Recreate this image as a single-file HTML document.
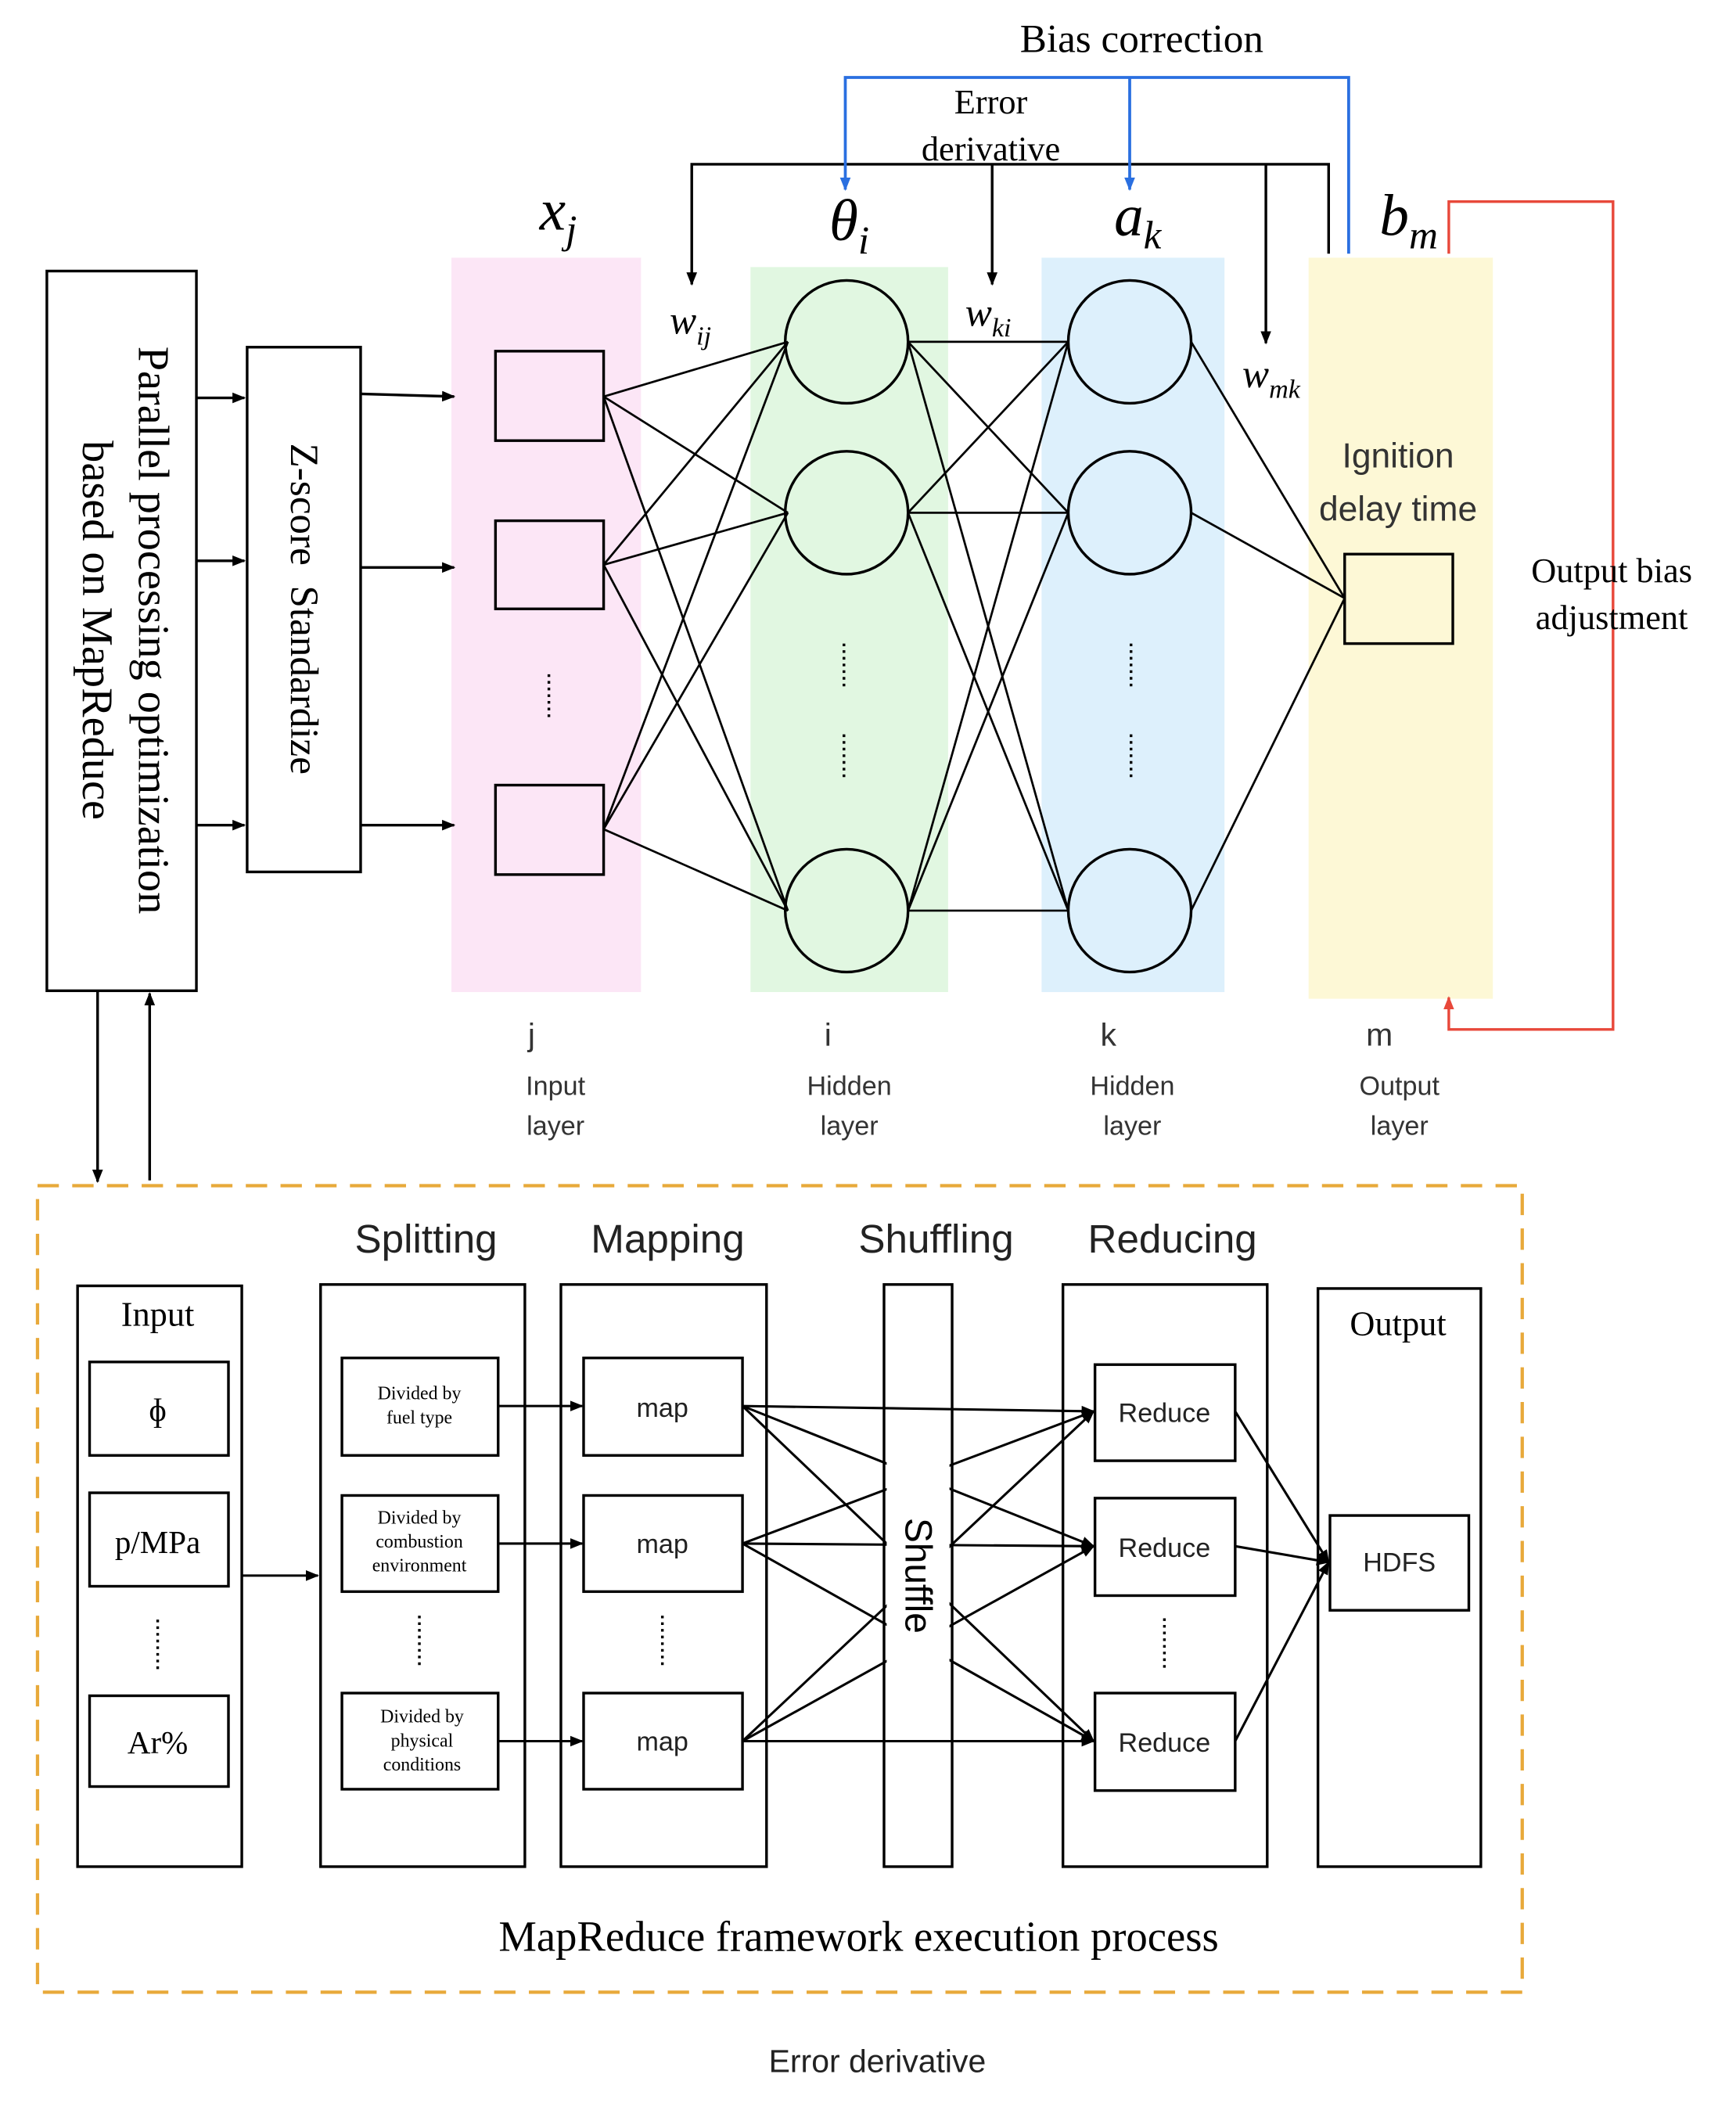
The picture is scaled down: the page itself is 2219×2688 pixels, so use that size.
<!DOCTYPE html>
<html><head><meta charset="utf-8"><style>
html,body{margin:0;padding:0;background:#fff}
svg{display:block}
.s{font-family:"Liberation Serif",serif}
.a{font-family:"Liberation Sans","DejaVu Sans",sans-serif}
</style></head><body>
<svg width="2219" height="2688" viewBox="0 0 1300 1575" xmlns="http://www.w3.org/2000/svg">
<defs>
<marker id="ah" markerWidth="10" markerHeight="10" refX="9" refY="5" orient="auto" markerUnits="userSpaceOnUse"><path d="M0,1 L10,5 L0,9 z" fill="#000"/></marker>
<marker id="ab" markerWidth="10" markerHeight="10" refX="9" refY="5" orient="auto" markerUnits="userSpaceOnUse"><path d="M0,1 L10,5 L0,9 z" fill="#2a6fe0"/></marker>
<marker id="ar" markerWidth="10" markerHeight="10" refX="9" refY="5" orient="auto" markerUnits="userSpaceOnUse"><path d="M0,1 L10,5 L0,9 z" fill="#e8483a"/></marker>
</defs>
<rect width="1300" height="1575" fill="#fff"/>
<rect x="338" y="193" width="142" height="550" fill="#fce6f6"/>
<rect x="562" y="200" width="148" height="543" fill="#e1f7e1"/>
<rect x="780" y="193" width="137" height="550" fill="#ddf0fc"/>
<rect x="980" y="193" width="138" height="555" fill="#fdf8d6"/>
<g fill="none" stroke="#000" stroke-width="2">
<rect x="35" y="203" width="112" height="539"/>
<rect x="185" y="260" width="85" height="393"/>
<line x1="147" y1="298" x2="183" y2="298" marker-end="url(#ah)"/>
<line x1="147" y1="420" x2="183" y2="420" marker-end="url(#ah)"/>
<line x1="147" y1="618" x2="183" y2="618" marker-end="url(#ah)"/>
<line x1="270" y1="295" x2="340" y2="297" marker-end="url(#ah)"/>
<line x1="270" y1="425" x2="340" y2="425" marker-end="url(#ah)"/>
<line x1="270" y1="618" x2="340" y2="618" marker-end="url(#ah)"/>
<rect x="371" y="263" width="81" height="67"/>
<rect x="371" y="390" width="81" height="66"/>
<rect x="371" y="588" width="81" height="67"/>
<circle cx="634" cy="256" r="46"/><circle cx="634" cy="384" r="46"/><circle cx="634" cy="682" r="46"/>
<circle cx="846" cy="256" r="46"/><circle cx="846" cy="384" r="46"/><circle cx="846" cy="682" r="46"/>
<rect x="1007" y="415" width="81" height="67"/>
</g>
<g stroke="#000" stroke-width="1.6">
<line x1="452" y1="297" x2="590" y2="256"/><line x1="452" y1="297" x2="590" y2="384"/><line x1="452" y1="297" x2="590" y2="682"/>
<line x1="452" y1="423" x2="590" y2="256"/><line x1="452" y1="423" x2="590" y2="384"/><line x1="452" y1="423" x2="590" y2="682"/>
<line x1="452" y1="621" x2="590" y2="256"/><line x1="452" y1="621" x2="590" y2="384"/><line x1="452" y1="621" x2="590" y2="682"/>
<line x1="680" y1="256" x2="800" y2="256"/><line x1="680" y1="256" x2="800" y2="384"/><line x1="680" y1="256" x2="800" y2="682"/>
<line x1="680" y1="384" x2="800" y2="256"/><line x1="680" y1="384" x2="800" y2="384"/><line x1="680" y1="384" x2="800" y2="682"/>
<line x1="680" y1="682" x2="800" y2="256"/><line x1="680" y1="682" x2="800" y2="384"/><line x1="680" y1="682" x2="800" y2="682"/>
<line x1="892" y1="256" x2="1007" y2="448"/><line x1="892" y1="384" x2="1007" y2="448"/><line x1="892" y1="682" x2="1007" y2="448"/>
</g>
<g stroke="#000" stroke-width="2" stroke-dasharray="2,3">
<line x1="411" y1="505" x2="411" y2="537"/>
<line x1="632" y1="482" x2="632" y2="516"/><line x1="632" y1="550" x2="632" y2="585"/>
<line x1="847" y1="482" x2="847" y2="516"/><line x1="847" y1="550" x2="847" y2="585"/>
</g>
<g fill="none" stroke="#000" stroke-width="2">
<polyline points="995,190 995,123 518,123 518,213" marker-end="url(#ah)"/>
<line x1="743" y1="123" x2="743" y2="213" marker-end="url(#ah)"/>
<line x1="948" y1="123" x2="948" y2="257" marker-end="url(#ah)"/>
</g>
<g fill="none" stroke="#2a6fe0" stroke-width="2.2">
<polyline points="1010,190 1010,58 633,58 633,142" marker-end="url(#ab)"/>
<line x1="846" y1="58" x2="846" y2="142" marker-end="url(#ab)"/>
</g>
<polyline fill="none" stroke="#e8483a" stroke-width="2" points="1085,190 1085,151 1208,151 1208,771 1085,771 1085,747" marker-end="url(#ar)"/>
<text class="s" x="855" y="39" font-size="30" text-anchor="middle">Bias correction</text>
<text class="s" x="742" y="85" font-size="26" text-anchor="middle">Error</text>
<text class="s" x="742" y="120" font-size="26" text-anchor="middle">derivative</text>
<text class="s" x="418" y="172" font-size="44" font-style="italic" text-anchor="middle">x<tspan font-size="30" dy="10">j</tspan></text>
<text class="s" x="636" y="180" font-size="44" font-style="italic" text-anchor="middle">θ<tspan font-size="30" dy="10">i</tspan></text>
<text class="s" x="852" y="176" font-size="44" font-style="italic" text-anchor="middle">a<tspan font-size="30" dy="10">k</tspan></text>
<text class="s" x="1055" y="176" font-size="44" font-style="italic" text-anchor="middle">b<tspan font-size="30" dy="10">m</tspan></text>
<text class="s" x="517" y="250" font-size="30" font-style="italic" text-anchor="middle">w<tspan font-size="20" dy="8">ij</tspan></text>
<text class="s" x="740" y="244" font-size="30" font-style="italic" text-anchor="middle">w<tspan font-size="20" dy="8">ki</tspan></text>
<text class="s" x="952" y="290" font-size="30" font-style="italic" text-anchor="middle">w<tspan font-size="20" dy="8">mk</tspan></text>
<text class="a" x="1047" y="350" font-size="26" text-anchor="middle" fill="#333">Ignition</text>
<text class="a" x="1047" y="390" font-size="26" text-anchor="middle" fill="#333">delay time</text>
<text class="s" x="1207" y="436" font-size="26" text-anchor="middle">Output bias</text>
<text class="s" x="1207" y="471" font-size="26" text-anchor="middle">adjustment</text>
<text class="s" transform="translate(104,472) rotate(90)" font-size="33" text-anchor="middle">Parallel processing optimization</text>
<text class="s" transform="translate(62,472) rotate(90)" font-size="33" text-anchor="middle">based on MapReduce</text>
<text class="s" transform="translate(218,456) rotate(90)" font-size="30" text-anchor="middle" xml:space="preserve">Z-score  Standardize</text>
<g class="a" font-size="20" text-anchor="middle" fill="#333">
<text x="398" y="783" font-size="24">j</text><text x="416" y="820">Input</text><text x="416" y="850">layer</text>
<text x="620" y="783" font-size="24">i</text><text x="636" y="820">Hidden</text><text x="636" y="850">layer</text>
<text x="830" y="783" font-size="24">k</text><text x="848" y="820">Hidden</text><text x="848" y="850">layer</text>
<text x="1033" y="783" font-size="24">m</text><text x="1048" y="820">Output</text><text x="1048" y="850">layer</text>
</g>
<g stroke="#000" stroke-width="2">
<line x1="73" y1="742" x2="73" y2="885" marker-end="url(#ah)"/>
<line x1="112" y1="884" x2="112" y2="744" marker-end="url(#ah)"/>
</g>
<rect x="28" y="888" width="1112" height="604" fill="none" stroke="#e8a93a" stroke-width="2.5" stroke-dasharray="16,10"/>
<g class="a" font-size="30" text-anchor="middle" fill="#222">
<text x="319" y="938">Splitting</text><text x="500" y="938">Mapping</text><text x="701" y="938">Shuffling</text><text x="878" y="938">Reducing</text>
</g>
<g fill="none" stroke="#000" stroke-width="2">
<rect x="58" y="963" width="123" height="435"/>
<rect x="67" y="1020" width="104" height="70"/><rect x="67" y="1118" width="104" height="70"/><rect x="67" y="1270" width="104" height="68"/>
<rect x="240" y="962" width="153" height="436"/>
<rect x="256" y="1017" width="117" height="73"/><rect x="256" y="1120" width="117" height="72"/><rect x="256" y="1268" width="117" height="72"/>
<rect x="420" y="962" width="154" height="436"/>
<rect x="437" y="1017" width="119" height="73"/><rect x="437" y="1120" width="119" height="72"/><rect x="437" y="1268" width="119" height="72"/>
<rect x="662" y="962" width="51" height="436"/>
<rect x="796" y="962" width="153" height="436"/>
<rect x="820" y="1022" width="105" height="72"/><rect x="820" y="1122" width="105" height="73"/><rect x="820" y="1268" width="105" height="73"/>
<rect x="987" y="965" width="122" height="433"/>
<rect x="996" y="1135" width="104" height="71"/>
</g>
<g stroke="#000" stroke-width="2" stroke-dasharray="2,3">
<line x1="118" y1="1213" x2="118" y2="1252"/><line x1="314" y1="1210" x2="314" y2="1250"/>
<line x1="496" y1="1210" x2="496" y2="1250"/><line x1="872" y1="1212" x2="872" y2="1252"/>
</g>
<g stroke="#000" stroke-width="1.8" fill="none">
<line x1="181" y1="1180" x2="238" y2="1180" marker-end="url(#ah)"/>
<line x1="373" y1="1053" x2="436" y2="1053" marker-end="url(#ah)"/>
<line x1="373" y1="1156" x2="436" y2="1156" marker-end="url(#ah)"/>
<line x1="373" y1="1304" x2="436" y2="1304" marker-end="url(#ah)"/>
<line x1="556" y1="1053" x2="819" y2="1057" marker-end="url(#ah)"/><line x1="556" y1="1053" x2="819" y2="1158" marker-end="url(#ah)"/><line x1="556" y1="1053" x2="819" y2="1304" marker-end="url(#ah)"/>
<line x1="556" y1="1156" x2="819" y2="1057" marker-end="url(#ah)"/><line x1="556" y1="1156" x2="819" y2="1158" marker-end="url(#ah)"/><line x1="556" y1="1156" x2="819" y2="1304" marker-end="url(#ah)"/>
<line x1="556" y1="1304" x2="819" y2="1057" marker-end="url(#ah)"/><line x1="556" y1="1304" x2="819" y2="1158" marker-end="url(#ah)"/><line x1="556" y1="1304" x2="819" y2="1304" marker-end="url(#ah)"/>
<line x1="925" y1="1057" x2="995" y2="1170" marker-end="url(#ah)"/>
<line x1="925" y1="1158" x2="995" y2="1170" marker-end="url(#ah)"/>
<line x1="925" y1="1304" x2="995" y2="1170" marker-end="url(#ah)"/>
</g>
<rect x="664" y="1060" width="47" height="240" fill="#fff"/>
<text class="a" transform="translate(678,1180) rotate(90)" font-size="28" text-anchor="middle">Shuffle</text>
<g class="s" text-anchor="middle">
<text x="118" y="993" font-size="26">Input</text>
<text x="118" y="1064" font-size="24">ɸ</text>
<text x="118" y="1163" font-size="24">p/MPa</text>
<text x="118" y="1313" font-size="24">Ar%</text>
<text x="314" y="1048" font-size="14">Divided by</text><text x="314" y="1066" font-size="14">fuel type</text>
<text x="314" y="1141" font-size="14">Divided by</text><text x="314" y="1159" font-size="14">combustion</text><text x="314" y="1177" font-size="14">environment</text>
<text x="316" y="1290" font-size="14">Divided by</text><text x="316" y="1308" font-size="14">physical</text><text x="316" y="1326" font-size="14">conditions</text>
<text x="1047" y="1000" font-size="26">Output</text>
<text x="643" y="1461" font-size="32">MapReduce framework execution process</text>
</g>
<g class="a" text-anchor="middle" font-size="20" fill="#222">
<text x="496" y="1061">map</text><text x="496" y="1163">map</text><text x="496" y="1311">map</text>
<text x="872" y="1065">Reduce</text><text x="872" y="1166">Reduce</text><text x="872" y="1312">Reduce</text>
<text x="1048" y="1177">HDFS</text>
<text x="657" y="1552" font-size="24">Error derivative</text>
</g>
</svg>
</body></html>
